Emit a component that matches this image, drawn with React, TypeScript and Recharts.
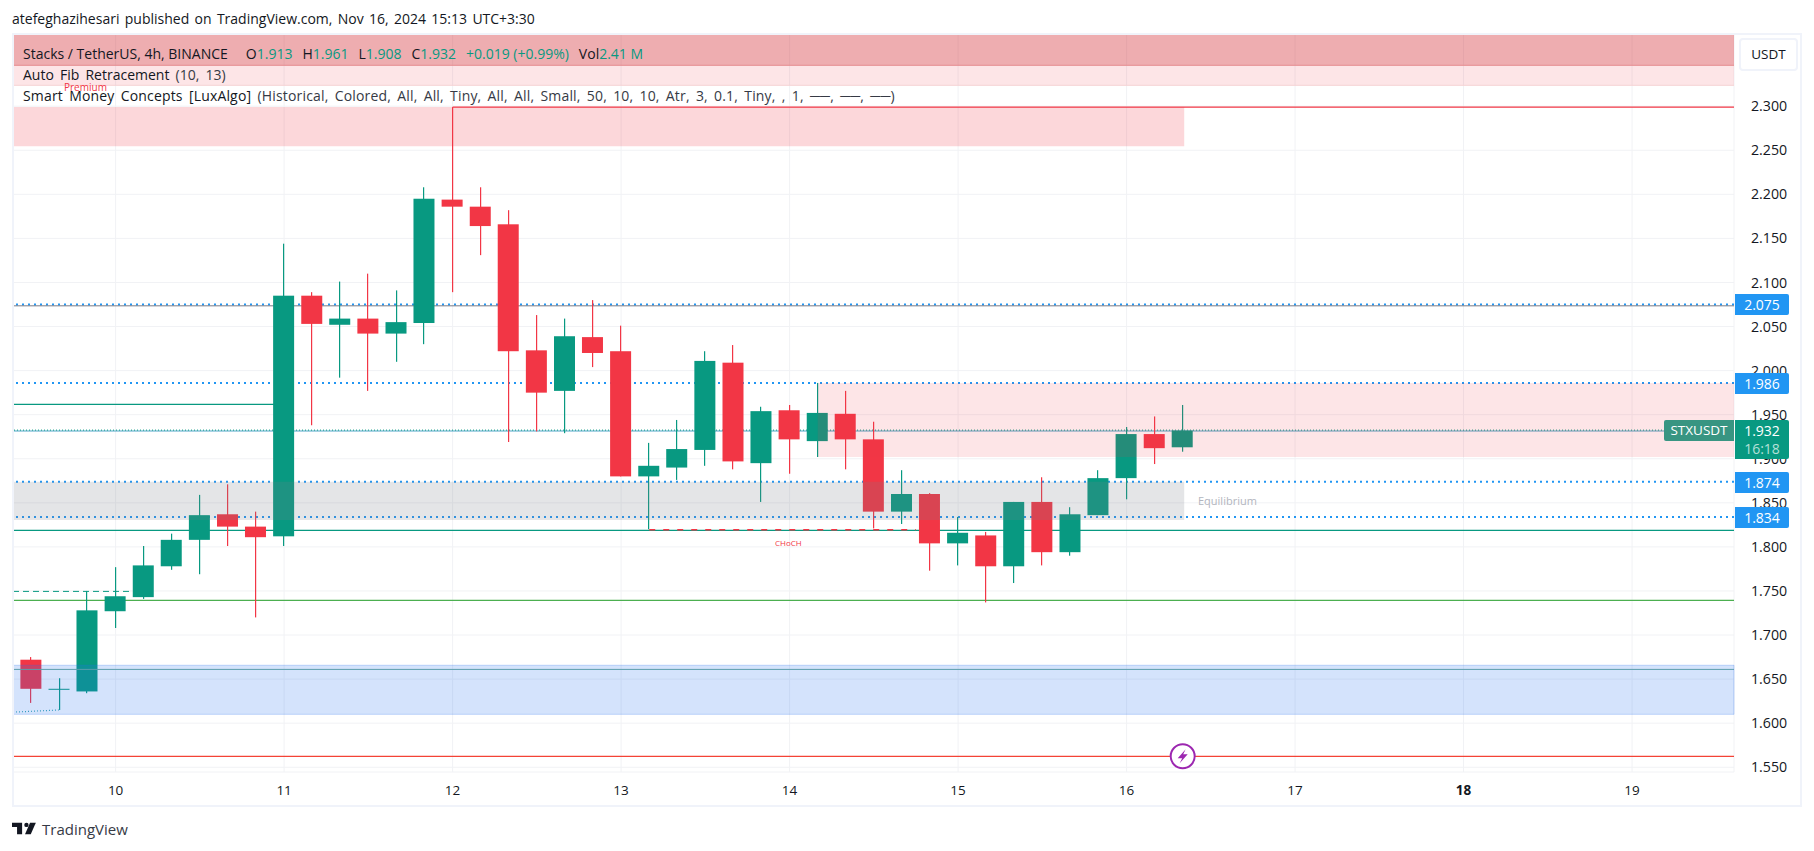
import {
  Bar,
  CartesianGrid,
  ComposedChart,
  ReferenceArea,
  ReferenceDot,
  ReferenceLine,
  XAxis,
  YAxis,
} from "recharts";

// 4h candles, x is the day of the month
const candleDays = [
  9.5, 9.667, 9.833, 10, 10.167, 10.333, 10.5, 10.667, 10.833, 11, 11.167, 11.333, 11.5, 11.667,
  11.833, 12, 12.167, 12.333, 12.5, 12.667, 12.833, 13, 13.167, 13.333, 13.5, 13.667, 13.833, 14,
  14.167, 14.333, 14.5, 14.667, 14.833, 15, 15.167, 15.333, 15.5, 15.667, 15.833, 16, 16.167, 16.333,
];
const opens = [
  1.672, 1.638, 1.636, 1.727, 1.743, 1.778, 1.808, 1.837, 1.823, 1.812, 2.085, 2.052, 2.059, 2.042,
  2.054, 2.194, 2.186, 2.166, 2.023, 1.977, 2.038, 2.022, 1.88, 1.89, 1.91, 2.009, 1.895, 1.955,
  1.92, 1.951, 1.922, 1.84, 1.86, 1.804, 1.813, 1.778, 1.851, 1.794, 1.836, 1.878, 1.928, 1.913,
];
const highs = [
  1.675, 1.651, 1.75, 1.777, 1.801, 1.815, 1.859, 1.871, 1.84, 2.144, 2.089, 2.101, 2.11, 2.091,
  2.208, 2.299, 2.208, 2.182, 2.063, 2.059, 2.08, 2.051, 1.918, 1.944, 2.022, 2.029, 1.959, 1.961,
  1.986, 1.977, 1.942, 1.887, 1.861, 1.834, 1.817, 1.851, 1.879, 1.845, 1.887, 1.936, 1.948, 1.961,
];
const lows = [
  1.623, 1.615, 1.634, 1.708, 1.741, 1.774, 1.769, 1.801, 1.72, 1.801, 1.938, 1.992, 1.977, 2.01,
  2.03, 2.089, 2.131, 1.919, 1.931, 1.929, 2.004, 1.88, 1.82, 1.876, 1.892, 1.888, 1.851, 1.883,
  1.902, 1.888, 1.821, 1.826, 1.773, 1.779, 1.737, 1.759, 1.779, 1.79, 1.836, 1.854, 1.894, 1.908,
];
const closes = [
  1.639, 1.639, 1.728, 1.744, 1.779, 1.808, 1.836, 1.823, 1.811, 2.085, 2.053, 2.059, 2.042, 2.055,
  2.195, 2.186, 2.164, 2.022, 1.975, 2.039, 2.02, 1.88, 1.892, 1.911, 2.011, 1.897, 1.954, 1.922,
  1.952, 1.922, 1.84, 1.86, 1.804, 1.816, 1.778, 1.851, 1.794, 1.837, 1.878, 1.928, 1.912, 1.932,
];

const dayTicks = [10, 11, 12, 13, 14, 15, 16, 17, 18, 19];
const priceTicks = [
  1.55, 1.6, 1.65, 1.7, 1.75, 1.8, 1.85, 1.9, 1.95, 2.0, 2.05, 2.1, 2.15, 2.2, 2.25, 2.3,
];
const priceBadges = [2.075, 1.986, 1.874, 1.834];

const xDomain = [9.391, 19.605];
const yDomain = [1.5446, 2.3819];

const table = candleDays.map((day, i) => ({
  day,
  open: opens[i],
  high: highs[i],
  low: lows[i],
  close: closes[i],
  range: [lows[i], highs[i]],
}));

const GREEN = "#089981";
const RED = "#f23645";
const BLUE = "#2196f3";
const FONT = "'Open Sans', sans-serif";

const Candle = ({ x, y, width, height, payload }: any) => {
  const { open, close, high, low } = payload;
  const unit = height / (high - low);
  const top = y + (high - Math.max(open, close)) * unit;
  const bodyHeight = Math.max(Math.abs(open - close) * unit, 1);
  const color = close >= open ? GREEN : RED;

  return (
    <g>
      <rect x={Math.floor(x + width / 2)} y={y} width={1.2} height={height} fill={color} />
      <rect x={x} y={top} width={width} height={bodyHeight} fill={color} />
    </g>
  );
};

const DayTick = ({ x, y, payload }: any) => (
  <text
    x={x}
    y={y}
    dy={5}
    textAnchor="middle"
    fontFamily={FONT}
    fontSize={13.5}
    fontWeight={payload.value === 18 ? 700 : 400}
    fill="#131722"
  >
    {payload.value}
  </text>
);

const AlertIcon = ({ cx, cy }: any) => (
  <g>
    <circle cx={cx} cy={cy} r={12} fill="#fff" stroke="#9c27b0" strokeWidth={2} />
    <path
      d={`M${cx + 3},${cy - 7} L${cx - 5},${cy + 2} L${cx - 0.5},${cy + 2} L${cx - 3},${cy + 7} L${cx + 5},${cy - 2} L${cx + 0.5},${cy - 2} Z`}
      fill="#9c27b0"
    />
  </g>
);

const Label = ({ left, top, size, color, children, style }: any) => (
  <div
    style={{
      position: "absolute",
      left,
      top,
      fontSize: size,
      color,
      lineHeight: "16px",
      whiteSpace: "pre",
      ...style,
    }}
  >
    {children}
  </div>
);

const Badge = ({ top, height, color, children }: any) => (
  <div
    style={{
      position: "absolute",
      left: 1735,
      top,
      width: 54,
      height,
      background: color,
      borderRadius: "0 2px 2px 0",
      color: "#fff",
      fontSize: 14,
      textAlign: "center",
      lineHeight: `${height}px`,
    }}
  >
    {children}
  </div>
);

const App = () => {
  return (
    <div
      style={{
        position: "absolute",
        left: 0,
        top: 0,
        width: 1814,
        height: 851,
        background: "#fff",
        overflow: "hidden",
        fontFamily: FONT,
      }}
    >
      <ComposedChart
        width={1814}
        height={851}
        data={table}
        margin={{ top: 34, right: 14, bottom: 44, left: 13 }}
      >
        <CartesianGrid stroke="#f1f2f5" />
        <XAxis
          dataKey="day"
          type="number"
          domain={xDomain}
          ticks={dayTicks}
          allowDataOverflow
          axisLine={false}
          tickLine={false}
          height={35}
          tick={<DayTick />}
          tickMargin={12}
        />
        <YAxis
          orientation="right"
          type="number"
          domain={yDomain}
          ticks={priceTicks}
          allowDataOverflow
          axisLine={false}
          tickLine={false}
          width={66}
          tickMargin={11}
          tick={{ fontFamily: FONT, fontSize: 14.2, fill: "#131722" }}
          tickFormatter={(v: number) => v.toFixed(3)}
        />

        {/* levels sit behind the candles */}
        <ReferenceLine y={2.075} stroke={BLUE} strokeWidth={2} strokeDasharray="2 4" zIndex={50} />
        <ReferenceLine y={2.0735} stroke="#787b86" strokeWidth={1} zIndex={50} />
        <ReferenceLine y={1.986} stroke={BLUE} strokeWidth={2} strokeDasharray="2 4" zIndex={50} />
        <ReferenceLine y={1.874} stroke={BLUE} strokeWidth={2} strokeDasharray="2 4" zIndex={50} />
        <ReferenceLine y={1.834} stroke={BLUE} strokeWidth={2} strokeDasharray="2 4" zIndex={50} />
        <ReferenceLine y={1.9315} stroke="#4ba3c7" strokeWidth={1} zIndex={50} />
        <ReferenceLine y={1.9325} stroke={GREEN} strokeWidth={1} strokeDasharray="1 2" zIndex={50} />
        <ReferenceLine y={1.8187} stroke={GREEN} strokeWidth={1.2} zIndex={50} />
        <ReferenceLine y={1.7394} stroke="#4caf50" strokeWidth={1.2} zIndex={50} />
        <ReferenceLine y={1.5624} stroke="#f44336" strokeWidth={1.2} zIndex={50} />
        <ReferenceLine y={1.661} stroke="#6aa89c" strokeWidth={1} zIndex={350} />
        <ReferenceLine
          segment={[{ x: 12, y: 2.299 }, { x: 19.605, y: 2.299 }]}
          stroke={RED}
          strokeWidth={1.2}
          zIndex={50}
        />
        <ReferenceLine
          segment={[{ x: 9.391, y: 1.9618 }, { x: 11, y: 1.9618 }]}
          stroke={GREEN}
          strokeWidth={1.2}
          zIndex={50}
        />
        <ReferenceLine
          segment={[{ x: 9.391, y: 1.7495 }, { x: 10.1, y: 1.7495 }]}
          stroke={GREEN}
          strokeWidth={1}
          strokeDasharray="6 4"
          zIndex={50}
        />
        <ReferenceLine
          segment={[{ x: 13.167, y: 1.8195 }, { x: 14.75, y: 1.8195 }]}
          stroke={RED}
          strokeWidth={1.5}
          strokeDasharray="6 8"
          zIndex={50}
        />
        <ReferenceLine
          segment={[{ x: 9.391, y: 1.6125 }, { x: 9.667, y: 1.615 }]}
          stroke="#3aa6b5"
          strokeWidth={1.2}
          strokeDasharray="1 2"
          zIndex={50}
        />

        <Bar
          dataKey="range"
          barSize={21}
          shape={<Candle />}
          isAnimationActive={false}
          zIndex={300}
        />

        {/* zones are translucent and tint the candles under them */}
        <ReferenceArea x1={9.391} x2={19.605} y1={2.3464} y2={2.3819} fill="#d43239" fillOpacity={0.4} stroke="none" zIndex={350} />
        <ReferenceArea x1={9.391} x2={19.605} y1={2.3237} y2={2.3464} fill={RED} fillOpacity={0.13} stroke="none" zIndex={350} />
        <ReferenceLine y={2.3464} stroke="#e58a8e" strokeWidth={1} zIndex={351} />
        <ReferenceLine y={2.3237} stroke="#f6d3d4" strokeWidth={1} zIndex={351} />
        <ReferenceArea x1={9.391} x2={16.342} y1={2.2545} y2={2.299} fill={RED} fillOpacity={0.2} stroke="none" zIndex={350} />
        <ReferenceArea x1={14.167} x2={19.605} y1={1.902} y2={1.986} fill={RED} fillOpacity={0.13} stroke="none" zIndex={350} />
        <ReferenceArea x1={9.391} x2={16.342} y1={1.8305} y2={1.874} fill="#787b86" fillOpacity={0.2} stroke="none" zIndex={350} />
        <ReferenceArea x1={9.391} x2={19.605} y1={1.61} y2={1.6657} fill="#2873f0" fillOpacity={0.2} stroke="#2873f0" strokeOpacity={0.25} zIndex={350} />

        <ReferenceDot x={16.333} y={1.5624} shape={<AlertIcon />} zIndex={360} />
      </ComposedChart>

      {/* frame round the chart */}
      <div
        style={{
          position: "absolute",
          left: 12,
          top: 33,
          width: 1790,
          height: 774,
          boxSizing: "border-box",
          border: "2px solid #f0f3fa",
        }}
      />
      {/* the pane clips the lowest price label */}
      <div style={{ position: "absolute", left: 1735, top: 772, width: 60, height: 9, background: "#fff" }} />

      <Label left={12} top={11} size={14} color="#131722" style={{ wordSpacing: 1.7 }}>
        atefeghazihesari published on TradingView.com, Nov 16, 2024 15:13 UTC+3:30
      </Label>

      <Label left={23} top={46} size={14} color="#131722">
        Stacks / TetherUS, 4h, BINANCE
        <span style={{ marginLeft: 18 }}>O</span>
        <span style={{ color: GREEN }}>1.913</span>
        <span style={{ marginLeft: 10 }}>H</span>
        <span style={{ color: GREEN }}>1.961</span>
        <span style={{ marginLeft: 10 }}>L</span>
        <span style={{ color: GREEN }}>1.908</span>
        <span style={{ marginLeft: 10 }}>C</span>
        <span style={{ color: GREEN }}>1.932</span>
        <span style={{ marginLeft: 10, color: GREEN }}>+0.019 (+0.99%)</span>
        <span style={{ marginLeft: 10 }}>Vol</span>
        <span style={{ color: GREEN }}>2.41 M</span>
      </Label>
      <Label left={23} top={67} size={14} color="#131722" style={{ wordSpacing: 2.5 }}>
        Auto Fib Retracement <span style={{ color: "#363a45" }}>(10, 13)</span>
      </Label>
      <Label left={23} top={88} size={14} color="#131722" style={{ wordSpacing: 2.4, letterSpacing: 0.17 }}>
        Smart Money Concepts [LuxAlgo]{" "}
        <span style={{ color: "#363a45" }}>
          (Historical, Colored, All, All, Tiny, All, All, Small, 50, 10, 10, Atr, 3, 0.1, Tiny, , 1, ──, ──, ──)
        </span>
      </Label>

      <Label left={64} top={79} size={10} color={RED}>
        Premium
      </Label>
      <Label left={1198} top={493} size={11} color="#b2b5be">
        Equilibrium
      </Label>
      <Label left={775} top={535} size={8} color={RED}>
        CHoCH
      </Label>

      <div
        style={{
          position: "absolute",
          left: 1739,
          top: 38,
          width: 59,
          height: 33,
          boxSizing: "border-box",
          border: "2px solid #f0f3fa",
          borderRadius: 4,
          color: "#131722",
          fontSize: 13.5,
          textAlign: "center",
          lineHeight: "29px",
          background: "#fff",
        }}
      >
        USDT
      </div>

      <Badge top={294} height={21} color={BLUE}>{priceBadges[0].toFixed(3)}</Badge>
      <Badge top={373} height={21} color={BLUE}>{priceBadges[1].toFixed(3)}</Badge>
      <Badge top={472} height={21} color={BLUE}>{priceBadges[2].toFixed(3)}</Badge>
      <Badge top={507} height={21} color={BLUE}>{priceBadges[3].toFixed(3)}</Badge>

      <div
        style={{
          position: "absolute",
          left: 1664,
          top: 420,
          width: 70,
          height: 21,
          background: "#389582",
          borderRadius: "2px 0 0 2px",
          color: "#fff",
          fontSize: 13.5,
          textAlign: "center",
          lineHeight: "21px",
        }}
      >
        STXUSDT
      </div>
      <div
        style={{
          position: "absolute",
          left: 1735,
          top: 420,
          width: 54,
          height: 39,
          background: GREEN,
          borderRadius: "0 2px 2px 0",
          textAlign: "center",
          fontSize: 14,
          color: "#fff",
        }}
      >
        <div style={{ lineHeight: "21px" }}>1.932</div>
        <div style={{ lineHeight: "15px", color: "#b5e0d8" }}>16:18</div>
      </div>

      {/* TradingView mark */}
      <svg
        style={{ position: "absolute", left: 12, top: 821 }}
        width={26}
        height={15}
        viewBox="0 0 36 20"
      >
        <path d="M14 2H0v6h7v10h7V2Z" fill="#131722" />
        <circle cx="20" cy="5" r="3" fill="#131722" />
        <path d="M33 2l-7 16h-8l7-16h8Z" fill="#131722" />
      </svg>
      <Label left={42} top={821} size={15} color="#363a45">
        TradingView
      </Label>
    </div>
  );
};

export default App;
